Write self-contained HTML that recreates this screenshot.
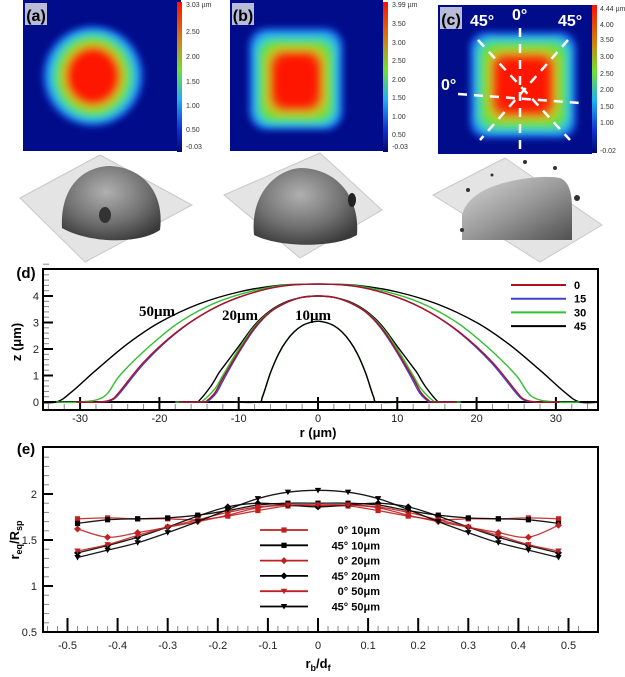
<!DOCTYPE html>
<html><head><meta charset="utf-8"><style>
html,body{margin:0;padding:0;background:#fff;}
svg{display:block;font-family:"Liberation Sans",sans-serif;}
</style></head><body>
<svg id="fig" width="625" height="677" viewBox="0 0 625 677">
<defs>
<filter id="blur" x="-30%" y="-30%" width="160%" height="160%"><feGaussianBlur stdDeviation="3.5"/></filter>
<clipPath id="clipD"><rect x="43" y="269" width="555" height="141"/></clipPath>
<linearGradient id="cbar" x1="0" y1="0" x2="0" y2="1">
<stop offset="0" stop-color="#ff1000"/><stop offset="0.25" stop-color="#d08010"/><stop offset="0.45" stop-color="#70e030"/><stop offset="0.65" stop-color="#20b0f0"/><stop offset="0.85" stop-color="#1030d0"/><stop offset="1" stop-color="#000a70"/>
</linearGradient>
<radialGradient id="dome" cx="0.45" cy="0.35" r="0.7"><stop offset="0" stop-color="#b0b0b0"/><stop offset="0.6" stop-color="#707070"/><stop offset="1" stop-color="#3a3a3a"/></radialGradient>
<linearGradient id="cush" x1="0" y1="0" x2="1" y2="1"><stop offset="0" stop-color="#d8d8d8"/><stop offset="0.5" stop-color="#9a9a9a"/><stop offset="1" stop-color="#505050"/></linearGradient>
</defs>

<g>
<rect x="23" y="0" width="158" height="151" fill="#000c8a"/>
<g filter="url(#blur)">
<ellipse cx="93" cy="76" rx="50" ry="50" fill="#1a6cf0"/>
<ellipse cx="93" cy="76" rx="44" ry="45" fill="#30c8d0"/>
<ellipse cx="93" cy="76" rx="38" ry="40" fill="#60e040"/>
<ellipse cx="93" cy="76" rx="32" ry="34" fill="#c0c020"/>
<ellipse cx="93" cy="76" rx="27" ry="29" fill="#f04010"/>
<ellipse cx="93" cy="76" rx="22" ry="24" fill="#ff1500"/>
</g>
<rect x="25" y="3" width="22" height="22" fill="#b8bcd8"/>
<text x="36" y="21" font-size="16" font-weight="bold" text-anchor="middle">(a)</text>
</g>
<g>
<rect x="230" y="0" width="153" height="151" fill="#000c8a"/>
<g filter="url(#blur)">
<rect x="249" y="28" width="94" height="102" rx="18" fill="#1a6cf0"/>
<rect x="254" y="34" width="84" height="92" rx="16" fill="#30c8d0"/>
<rect x="259" y="40" width="74" height="82" rx="16" fill="#60e040"/>
<rect x="265" y="46" width="62" height="70" rx="16" fill="#c0c020"/>
<rect x="270" y="51" width="52" height="60" rx="16" fill="#f04010"/>
<rect x="275" y="56" width="42" height="50" rx="16" fill="#ff1500"/>
</g>
<rect x="232" y="3" width="22" height="22" fill="#b8bcd8"/>
<text x="243" y="21" font-size="16" font-weight="bold" text-anchor="middle">(b)</text>
</g>
<g>
<rect x="438" y="5" width="154" height="149" fill="#000c8a"/>
<g filter="url(#blur)">
<rect x="470" y="32" width="106" height="106" rx="16" fill="#1a6cf0"/>
<rect x="475" y="37" width="96" height="96" rx="15" fill="#30c8d0"/>
<rect x="480" y="42" width="86" height="86" rx="14" fill="#60e040"/>
<rect x="487" y="49" width="72" height="72" rx="14" fill="#c0c020"/>
<rect x="492" y="54" width="62" height="62" rx="14" fill="#f04010"/>
<rect x="498" y="60" width="50" height="50" rx="14" fill="#ff1500"/>
</g>
<g stroke="#fff" stroke-width="2.5" stroke-dasharray="9,7">
<line x1="520" y1="28" x2="520" y2="150"/>
<line x1="458" y1="94" x2="580" y2="103"/>
<line x1="478" y1="40" x2="570" y2="140"/>
<line x1="568" y1="40" x2="480" y2="140"/>
</g>
<rect x="440" y="7" width="22" height="22" fill="#b8bcd8"/>
<text x="451" y="25" font-size="16" font-weight="bold" text-anchor="middle">(c)</text>
<g fill="#fff" font-size="16" font-weight="bold">
<text x="470" y="26">45°</text><text x="512" y="20">0°</text><text x="558" y="26">45°</text><text x="441" y="90">0°</text>
</g>
</g>

<g font-size="7" fill="#333">
<rect x="177" y="2" width="5" height="150" fill="url(#cbar)"/>
<text x="186" y="7">3.03 µm</text><text x="186" y="34">2.50</text><text x="186" y="59">2.00</text><text x="186" y="84">1.50</text><text x="186" y="108">1.00</text><text x="186" y="132">0.50</text><text x="186" y="149">-0.03</text>
<rect x="383" y="2" width="5" height="150" fill="url(#cbar)"/>
<text x="392" y="7">3.99 µm</text><text x="392" y="26">3.50</text><text x="392" y="45">3.00</text><text x="392" y="63">2.50</text><text x="392" y="82">2.00</text><text x="392" y="100">1.50</text><text x="392" y="119">1.00</text><text x="392" y="137">0.50</text><text x="392" y="149">-0.03</text>
<rect x="592" y="5" width="5" height="148" fill="url(#cbar)"/>
<text x="600" y="11">4.44 µm</text><text x="600" y="27">4.00</text><text x="600" y="42">3.50</text><text x="600" y="59">3.00</text><text x="600" y="76">2.50</text><text x="600" y="92">2.00</text><text x="600" y="109">1.50</text><text x="600" y="125">1.00</text><text x="600" y="153">-0.02</text>
</g>

<g>
<polygon points="20,198 100,155 192,205 85,262" fill="#e4e4e4" stroke="#c8c8c8"/>
<path d="M62,228 C60,190 80,168 108,166 C140,166 165,190 160,230 C140,244 90,244 62,228 Z" fill="url(#dome)"/>
<ellipse cx="105" cy="215" rx="6" ry="8" fill="#333"/>
</g>
<g>
<polygon points="224,195 320,153 382,210 300,258" fill="#e4e4e4" stroke="#c8c8c8"/>
<path d="M254,235 C250,195 275,170 300,168 C335,168 360,195 357,235 C335,248 280,248 254,235 Z" fill="url(#dome)"/>
<ellipse cx="352" cy="200" rx="4" ry="7" fill="#222"/>
</g>
<g>
<polygon points="433,195 505,158 602,225 540,262" fill="#e4e4e4" stroke="#c8c8c8"/>
<path d="M462,240 L462,215 C466,200 480,190 500,184 C520,178 545,175 560,178 C570,182 572,195 572,210 L572,240 Z" fill="url(#cush)"/>
<g fill="#333"><circle cx="525" cy="162" r="2"/><circle cx="555" cy="168" r="2"/><circle cx="577" cy="198" r="3"/><circle cx="468" cy="190" r="2"/><circle cx="492" cy="175" r="1.5"/><circle cx="462" cy="230" r="2"/></g>
</g>

<g id="panelD"></g>
<g id="panelE"></g>
</svg>
<script>
// ---------- Panel (d) data ----------
const dXTicks = [-30,-20,-10,0,10,20,30];
const dYTicks = [0,1,2,3,4];
const legendD = ["0","15","30","45"];
const legendDColors = ["#b01020","#4040d0","#30c030","#000"];
const r10 = [-7.5,-7,-6,-5,-4,-3,-2,-1,0];
const z10 = [0,0.2,1.1,1.8,2.3,2.65,2.88,3.0,3.05];
const r20_0 = [-14.5,-14,-13,-12,-10,-8,-6,-4,-2,0];
const z20_0 = [0,0.05,0.35,0.9,1.9,2.8,3.4,3.75,3.95,4.0];
const r20_15 = [-14.3,-13.8,-12.8,-11.8,-9.9,-7.9,-6,-4,-2,0];
const z20_15 = [0,0.05,0.35,0.9,1.9,2.8,3.4,3.75,3.95,4.0];
const r20_30 = [-15,-14.5,-13,-12,-10,-8,-6,-4,-2,0];
const z20_30 = [0,0.05,0.5,1.0,2.0,2.85,3.42,3.76,3.95,4.0];
const r20_45 = [-15.5,-15,-13.5,-12.5,-12,-10,-8,-6,-4,-2,0];
const z20_45 = [0,0.05,0.6,1.1,1.3,2.1,2.9,3.45,3.78,3.95,4.0];
const r50_0 = [-27.5,-26,-25,-22,-18,-14,-10,-5,0];
const z50_0 = [0,0.1,0.4,1.5,2.6,3.4,3.95,4.35,4.45];
const r50_15 = [-27.2,-25.8,-24.8,-21.8,-17.9,-14,-10,-5,0];
const z50_15 = [0,0.1,0.4,1.5,2.6,3.4,3.95,4.35,4.45];
const r50_30 = [-30,-27,-25,-22,-18,-14,-10,-5,0];
const z50_30 = [0,0.2,1.0,1.9,2.9,3.6,4.05,4.38,4.45];
const r50_45 = [-33,-31,-28,-24,-20,-15,-10,-5,0];
const z50_45 = [0,0.4,1.2,2.2,3.0,3.7,4.15,4.4,4.45];

// ---------- Panel (e) data ----------
const eX = [-0.48,-0.42,-0.36,-0.30,-0.24,-0.18,-0.12,-0.06,0,0.06,0.12,0.18,0.24,0.30,0.36,0.42,0.48];
const e0_10 = [1.73,1.74,1.73,1.73,1.72,1.76,1.82,1.87,1.87,1.87,1.82,1.76,1.72,1.73,1.73,1.74,1.73];
const e45_10 = [1.68,1.72,1.73,1.74,1.77,1.82,1.88,1.90,1.90,1.90,1.88,1.82,1.77,1.74,1.73,1.72,1.68];
const e0_20 = [1.62,1.53,1.58,1.64,1.70,1.77,1.85,1.88,1.88,1.88,1.85,1.77,1.70,1.64,1.58,1.53,1.66];
const e45_20 = [1.36,1.44,1.53,1.64,1.76,1.86,1.90,1.88,1.86,1.88,1.90,1.86,1.76,1.64,1.53,1.44,1.36];
const e0_50 = [1.38,1.45,1.55,1.64,1.72,1.80,1.86,1.88,1.88,1.88,1.86,1.80,1.72,1.64,1.55,1.45,1.38];
const e45_50 = [1.31,1.39,1.47,1.58,1.70,1.83,1.95,2.02,2.04,2.02,1.95,1.83,1.70,1.58,1.47,1.39,1.31];
const eXTicks = [-0.5,-0.4,-0.3,-0.2,-0.1,0,0.1,0.2,0.3,0.4,0.5];
const eYTicks = [0.5,1,1.5,2];
const legendE = ["0° 10μm","45° 10μm","0° 20μm","45° 20μm","0° 50μm","45° 50μm"];

const NS = "http://www.w3.org/2000/svg";
function mk(parent, tag, attrs, text){
  const el = document.createElementNS(NS, tag);
  for (const k in attrs) el.setAttribute(k, attrs[k]);
  if (text !== undefined) el.textContent = text;
  parent.appendChild(el);
  return el;
}
function smoothPath(pts){
  let d = "M" + pts[0][0].toFixed(1) + "," + pts[0][1].toFixed(1);
  for (let i=0;i<pts.length-1;i++){
    const p0=pts[i-1]||pts[i], p1=pts[i], p2=pts[i+1], p3=pts[i+2]||p2;
    const c1=[p1[0]+(p2[0]-p0[0])/6, p1[1]+(p2[1]-p0[1])/6];
    const c2=[p2[0]-(p3[0]-p1[0])/6, p2[1]-(p3[1]-p1[1])/6];
    d += " C"+c1[0].toFixed(1)+","+c1[1].toFixed(1)+" "+c2[0].toFixed(1)+","+c2[1].toFixed(1)+" "+p2[0].toFixed(1)+","+p2[1].toFixed(1);
  }
  return d;
}

// ===== Panel D =====
const gD = document.getElementById("panelD");
const xd = r => 318 + r*7.93;
const yd = z => 402 - z*26.5;
const DL=43, DR=598, DT=269, DB=410;
for (let r=-34;r<=34;r+=2){
  const t = mk(gD,"line",{x1:xd(r),x2:xd(r),y1:DB,y2:DB-6,stroke:"#888","stroke-width":1});
  
  
}
for (let z=0;z<=5.3;z+=0.2){
  const t = mk(gD,"line",{x1:DL,x2:DL+6,y1:yd(z),y2:yd(z),stroke:"#888","stroke-width":1});
  
  
}
dXTicks.forEach(v=>{
  const t = mk(gD,"line",{x1:xd(v),x2:xd(v),y1:DB,y2:DB-13,stroke:"#000","stroke-width":2});
  
  
  const l = mk(gD,"text",{x:xd(v),y:DB+12,"font-size":11,"text-anchor":"middle",fill:"#222"},String(v));
  
  
});
dYTicks.forEach(v=>{
  const t = mk(gD,"line",{x1:DL,x2:DL+10,y1:yd(v),y2:yd(v),stroke:"#000","stroke-width":2});
  
  
  const l = mk(gD,"text",{x:DL-4,y:yd(v)+4,"font-size":11,"text-anchor":"end",fill:"#222"},String(v));
  
  
});
const curves = mk(gD,"g",{"clip-path":"url(#clipD)"});


const base = mk(curves,"line",{x1:DL,x2:DR,y1:yd(0),y2:yd(0),stroke:"#000","stroke-width":2});


function profile(rs, zs, color, name){
  const left = rs.map((r,i)=>[xd(r),yd(zs[i])]);
  const right = rs.slice(0,-1).reverse().map((r,i)=>[xd(-r), yd(zs[rs.length-2-i])]);
  const pts = [[xd(rs[0]-3),yd(0)]].concat(left, right, [[xd(-rs[0]+3),yd(0)]]);
  const p = mk(curves,"path",{d:smoothPath(pts),fill:"none",stroke:color,"stroke-width":1.4});
  
  
}
profile(r50_45,z50_45,"#000","profile-50um-45");
profile(r50_30,z50_30,"#30c030","profile-50um-30");
profile(r50_15,z50_15,"#4040d0","profile-50um-15");
profile(r50_0,z50_0,"#b01020","profile-50um-0");
profile(r20_45,z20_45,"#000","profile-20um-45");
profile(r20_30,z20_30,"#30c030","profile-20um-30");
profile(r20_15,z20_15,"#4040d0","profile-20um-15");
profile(r20_0,z20_0,"#b01020","profile-20um-0");
profile(r10,z10,"#30c030","profile-10um-30");
profile(r10,z10,"#000","profile-10um-45");
const fr = mk(gD,"rect",{x:DL,y:DT,width:DR-DL,height:DB-DT,fill:"none",stroke:"#000","stroke-width":2});


legendD.forEach((lab,i)=>{
  const y = 285 + i*13.7;
  const ln = mk(gD,"line",{x1:511,x2:566,y1:y,y2:y,stroke:legendDColors[i],"stroke-width":2});
  
  
  const tx = mk(gD,"text",{x:574,y:y+4,"font-size":11,"font-weight":"bold"},lab);
  
  
});
[["50μm",139,316],["20μm",222,320],["10μm",295,320]].forEach(a=>{
  const t = mk(gD,"text",{x:a[1],y:a[2],"font-size":15,"font-weight":"bold","font-family":"Liberation Serif, serif"},a[0]);
  
  
});
let t1 = mk(gD,"text",{x:26,y:278,"font-size":15,"font-weight":"bold","text-anchor":"middle"},"(d)");


t1 = mk(gD,"text",{x:318,y:437,"font-size":13,"font-weight":"bold","text-anchor":"middle"},"r (μm)");


t1 = mk(gD,"text",{x:0,y:0,"font-size":13,"font-weight":"bold","text-anchor":"middle",transform:"translate(21,342) rotate(-90)"},"z (μm)");



// ===== Panel E =====
const gE = document.getElementById("panelE");
const xe = v => 318 + v*501;
const ye = v => 632 - (v-0.5)*92;
const EL=43, ER=598, ET=447, EB=632;
for (let v=-0.54; v<=0.54; v+=0.02){
  const t = mk(gE,"line",{x1:xe(v),x2:xe(v),y1:EB,y2:EB-6,stroke:"#888","stroke-width":1});
  
  
}
for (let v=0.5; v<=2.5; v+=0.1){
  const t = mk(gE,"line",{x1:EL,x2:EL+6,y1:ye(v),y2:ye(v),stroke:"#888","stroke-width":1});
  
  
}
eXTicks.forEach(v=>{
  const t = mk(gE,"line",{x1:xe(v),x2:xe(v),y1:EB,y2:EB-14,stroke:"#000","stroke-width":2});
  
  
  const l = mk(gE,"text",{x:xe(v),y:EB+17,"font-size":11,"text-anchor":"middle",fill:"#222"},String(v));
  
  
});
eYTicks.forEach(v=>{
  const t = mk(gE,"line",{x1:EL,x2:EL+10,y1:ye(v),y2:ye(v),stroke:"#000","stroke-width":2});
  
  
  const l = mk(gE,"text",{x:EL-6,y:ye(v)+4,"font-size":11,"text-anchor":"end",fill:"#222"},String(v));
  
  
});
function marker(g,type,x,y,color){
  let m;
  if (type==="sq") m = mk(g,"rect",{x:x-2.6,y:y-2.6,width:5.2,height:5.2,fill:color});
  else if (type==="dia") m = mk(g,"polygon",{points:`${x},${y-3.5} ${x+3.5},${y} ${x},${y+3.5} ${x-3.5},${y}`,fill:color});
  else m = mk(g,"polygon",{points:`${x-3.2},${y-2.5} ${x+3.2},${y-2.5} ${x},${y+3}`,fill:color});
  return m;
}
const eSeries = [[e0_10,"#c02020","sq"],[e45_10,"#000","sq"],[e0_20,"#c02020","dia"],[e45_20,"#000","dia"],[e0_50,"#c02020","tri"],[e45_50,"#000","tri"]];
eSeries.forEach((s)=>{
  const pts = eX.map((x,i)=>[xe(x),ye(s[0][i])]);
  const p = mk(gE,"path",{d:smoothPath(pts),fill:"none",stroke:s[1],"stroke-width":1.3,opacity:0.9});
  
  
  pts.forEach(pt=>{
    const m = marker(gE,s[2],pt[0],pt[1],s[1]);
    
    
  });
});
const fe = mk(gE,"rect",{x:EL,y:ET,width:ER-EL,height:EB-ET,fill:"none",stroke:"#000","stroke-width":2});


legendE.forEach((lab,i)=>{
  const y = 530 + i*15.3;
  const s = eSeries[i];
  const ln = mk(gE,"line",{x1:260,x2:308,y1:y,y2:y,stroke:s[1],"stroke-width":1.8});
  
  
  const m = marker(gE,s[2],284,y,s[1]);
  
  
  const tx = mk(gE,"text",{x:380,y:y+4,"font-size":11,"font-weight":"bold","text-anchor":"end"},lab);
  
  
});
t1 = mk(gE,"text",{x:26,y:454,"font-size":15,"font-weight":"bold","text-anchor":"middle"},"(e)");


t1 = mk(gE,"text",{x:318,y:668,"font-size":13,"font-weight":"bold","text-anchor":"middle"});


t1.innerHTML = 'r<tspan font-size="9" dy="3">b</tspan><tspan dy="-3">/d</tspan><tspan font-size="9" dy="3">f</tspan>';
t1 = mk(gE,"text",{x:0,y:0,"font-size":13,"font-weight":"bold","text-anchor":"middle",transform:"translate(19,540) rotate(-90)"});


t1.innerHTML = 'r<tspan font-size="9" dy="3">eq</tspan><tspan dy="-3">/R</tspan><tspan font-size="9" dy="3">sp</tspan>';
</script>
</body></html>
